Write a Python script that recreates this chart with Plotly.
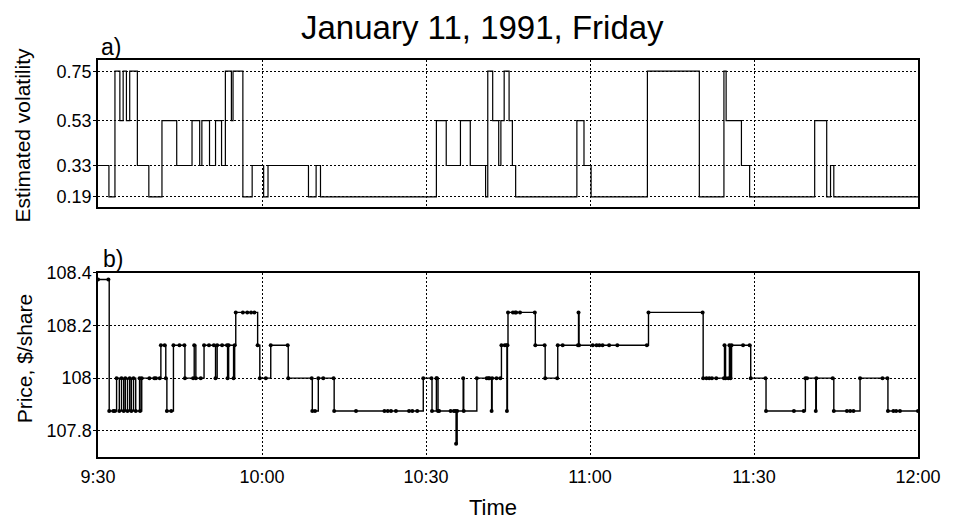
import plotly.graph_objects as go

# ---- data (minutes after 9:30) ----
tick_minutes = [0, 30, 60, 90, 120, 150]
tick_labels = ["9:30", "10:00", "10:30", "11:00", "11:30", "12:00"]

vol_levels = [0.19, 0.33, 0.53, 0.75]
vol_level_labels = ["0.19", "0.33", "0.53", "0.75"]

vol_t = [0, 2.0, 3.1, 4.0, 4.6, 5.2, 5.8, 7.2, 9.3, 11.7, 14.4, 17.2, 18.6, 19.0,
         20.4, 21.5, 22.6, 23.3, 24.4, 24.7, 26.5, 28.2, 30.3, 31.1, 38.5, 39.9,
         40.7, 61.9, 63.7, 66.3, 68.1, 70.9, 71.3, 72.2, 73.3, 73.7, 74.3, 75.2,
         75.8, 76.4, 87.6, 88.9, 90.2, 100.5, 110.0, 114.5, 114.9, 117.7, 119.2,
         131.1, 133.3, 134.0, 134.6, 150]
vol_v = [0.33, 0.19, 0.75, 0.53, 0.75, 0.53, 0.75, 0.33, 0.19, 0.53, 0.33, 0.53,
         0.33, 0.53, 0.33, 0.53, 0.33, 0.75, 0.53, 0.75, 0.19, 0.33, 0.19, 0.33,
         0.19, 0.33, 0.19, 0.53, 0.33, 0.53, 0.33, 0.19, 0.75, 0.53, 0.33, 0.53,
         0.75, 0.53, 0.33, 0.19, 0.53, 0.33, 0.19, 0.75, 0.19, 0.75, 0.53, 0.33,
         0.19, 0.53, 0.19, 0.33, 0.19, 0.19]

price_ticks = [107.8, 108.0, 108.2, 108.4]
price_tick_labels = ["107.8", "108", "108.2", "108.4"]

price_t = [0, 1.9, 2.05, 2.8, 3.1, 3.4, 3.9, 4.3, 4.7, 5.0, 5.4, 5.8, 6.1, 6.5, 6.9,
           7.6, 7.7, 8.0, 9.4, 10.3, 10.6, 11.3, 11.5, 12.2, 12.4, 12.6, 13.4,
           13.8, 14.9, 15.8, 15.9, 17.4, 17.6, 17.9, 18.8, 19.4, 20.3, 21.2, 21.5,
           21.8, 22.7, 23.6, 23.7, 23.9, 24.8, 25.0, 25.2, 26.5, 27.3, 28.0, 28.6,
           29.2, 29.6, 30.7, 31.6, 34.7, 34.8, 39.1, 39.2, 39.7, 40.3, 41.2, 43.1,
           43.2, 47.2, 52.4, 53.0, 53.6, 54.5, 56.9, 57.5, 58.4, 59.5, 61.0, 61.1,
           61.9, 62.0, 62.2, 62.4, 64.5, 65.1, 65.4, 65.5, 65.7, 66.8, 66.9, 69.3,
           71.1, 71.4, 71.6, 72.0, 72.1, 72.9, 73.6, 73.8, 74.4, 74.7, 74.8, 74.9,
           75.0, 75.9, 76.3, 76.5, 77.2, 79.9, 80.0, 81.7, 81.8, 84.0, 84.1, 85.0,
           87.8, 87.9, 88.0, 90.5, 91.2, 91.7, 92.3, 93.5, 95.0, 100.4, 100.7,
           110.6, 110.7, 111.3, 111.8, 112.3, 113.1, 114.5, 114.6, 114.8, 115.3,
           115.5, 115.7, 115.9, 118.0, 119.2, 119.4, 122.1, 122.2, 127.3, 129.1,
           129.4, 129.7, 131.3, 131.4, 134.4, 134.6, 137.0, 137.6, 138.2, 139.4,
           143.5, 144.4, 144.5, 145.5, 146.0, 146.7, 150]
price_v = [108.375, 108.375, 107.875, 107.875, 107.875, 108, 107.875, 108, 107.875,
           108, 107.875, 108, 107.875, 108, 107.875, 108, 107.875, 108, 108, 108,
           108, 108, 108.125, 108.125, 108, 107.875, 107.875, 108.125, 108.125,
           108.125, 108, 108, 108.125, 108, 108, 108.125, 108.125, 108.125, 108,
           108.125, 108.125, 108.125, 108, 108.125, 108, 108.125, 108.25, 108.25,
           108.25, 108.25, 108.25, 108.125, 108, 108, 108.125, 108.125, 108, 108,
           107.875, 107.875, 108, 108, 108, 107.875, 107.875, 107.875, 107.875,
           107.875, 107.875, 107.875, 107.875, 107.875, 108, 108, 107.875, 108,
           108, 107.875, 107.875, 107.875, 107.875, 107.875, 107.75, 107.875, 108,
           107.875, 108, 108, 108, 108, 107.875, 108, 108, 108, 108.125, 108.125,
           108.125, 107.875, 108.125, 108.25, 108.25, 108.25, 108.25, 108.25,
           108.25, 108.125, 108.125, 108, 108, 108.125, 108.125, 108.125, 108.25,
           108.125, 108.125, 108.125, 108.125, 108.125, 108.125, 108.125, 108.125,
           108.25, 108.25, 108, 108, 108, 108, 108, 108, 108.125, 108, 108, 108.125,
           108, 108.125, 108.125, 108.125, 108, 108, 107.875, 107.875, 107.875,
           108, 108, 107.875, 108, 108, 107.875, 107.875, 107.875, 107.875, 108,
           108, 108, 107.875, 107.875, 107.875, 107.875, 107.875]

FONT = "Liberation Sans, Arial, Helvetica, sans-serif"

fig = go.Figure()
fig.add_trace(go.Scatter(x=vol_t, y=vol_v, mode="lines", line_shape="hv",
                         line=dict(color="black", width=1.2),
                         xaxis="x", yaxis="y", showlegend=False))
fig.add_trace(go.Scatter(x=price_t, y=price_v, mode="lines+markers", line_shape="hv",
                         line=dict(color="black", width=1.4),
                         marker=dict(color="black", size=4),
                         xaxis="x2", yaxis="y2", showlegend=False))

grid = dict(showgrid=True, gridcolor="black", griddash="2px,2px", gridwidth=1,
            showline=True, mirror=True, linecolor="black", linewidth=1.5,
            zeroline=False)

fig.update_layout(
    width=945, height=514,
    paper_bgcolor="white", plot_bgcolor="white",
    margin=dict(l=90, r=28, t=52, b=65),
    font=dict(family=FONT, color="black", size=18),
    xaxis=dict(domain=[0, 1], anchor="y", range=[0, 150], tickvals=tick_minutes,
               ticktext=tick_labels, showticklabels=False, ticks="", **grid),
    yaxis=dict(domain=[0.6297, 1], anchor="x", range=[0.145, 0.80],
               tickvals=vol_levels, ticktext=vol_level_labels,
               ticks="outside", ticklen=3, tickcolor="black",
               ticklabelstandoff=-2, tickfont=dict(size=18), **grid),
    xaxis2=dict(domain=[0, 1], anchor="y2", range=[0, 150], tickvals=tick_minutes,
                ticktext=tick_labels, ticks="", ticklabelstandoff=3,
                tickfont=dict(size=18), **grid),
    yaxis2=dict(domain=[0, 0.4635], anchor="x2", range=[107.7, 108.4],
                tickvals=price_ticks, ticktext=price_tick_labels,
                ticks="outside", ticklen=3, tickcolor="black",
                ticklabelstandoff=-2, tickfont=dict(size=18), **grid),
)

ann = [
    dict(text="January 11, 1991, Friday", x=0.469, y=1.083, font=dict(size=33)),
    dict(text="a)", x=0.016, y=1.033, font=dict(size=23)),
    dict(text="b)", x=0.018, y=0.499, font=dict(size=23)),
    dict(text="Estimated volatility", x=-0.092, y=0.809, textangle=-90, font=dict(size=21)),
    dict(text="Price, $/share", x=-0.090, y=0.249, textangle=-90, font=dict(size=21)),
    dict(text="Time", x=0.482, y=-0.128, font=dict(size=22)),
]
for a in ann:
    fig.add_annotation(xref="paper", yref="paper", showarrow=False,
                       xanchor="center", yanchor="middle", **a)

fig.write_html("out.html")
